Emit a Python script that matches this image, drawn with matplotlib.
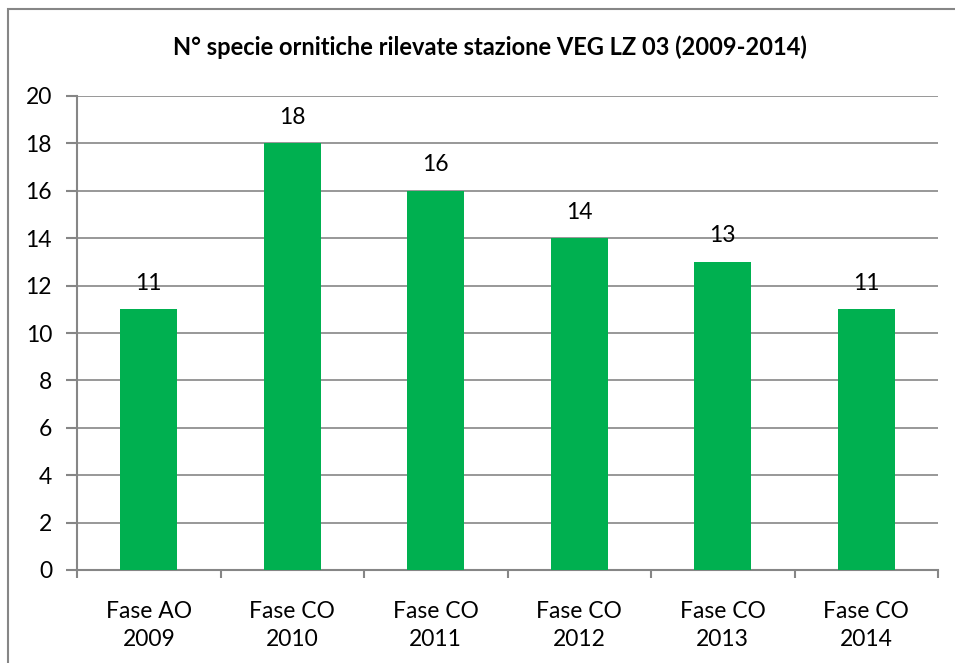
import matplotlib.pyplot as plt
from matplotlib.patches import Rectangle

# data
categories = ['Fase AO\n2009', 'Fase CO\n2010', 'Fase CO\n2011',
              'Fase CO\n2012', 'Fase CO\n2013', 'Fase CO\n2014']
species_count = [11, 18, 16, 14, 13, 11]

plt.rcParams['font.family'] = ['Lato', 'DejaVu Sans']

fig = plt.figure(figsize=(9.55, 6.63), dpi=100)
ax = fig.add_axes([77 / 955, 1 - 570 / 663, (938 - 77) / 955, (570 - 96) / 663])

x = range(len(categories))
bars = ax.bar(x, species_count, width=0.4, color='#00B050', zorder=3)
for i, v in enumerate(species_count):
    ax.text(i, v + 0.65, str(v), ha='center', va='bottom', fontsize=16.5)

ax.set_xlim(-0.5, len(categories) - 0.5)
ax.set_ylim(0, 20)
ax.set_yticks(range(0, 21, 2))
ax.set_xticks([i - 0.5 for i in range(len(categories) + 1)], minor=False)
ax.set_xticklabels([])
ax.set_xticks(list(x), minor=True)
ax.set_xticklabels(categories, minor=True, fontsize=16.5, linespacing=1.45)
ax.tick_params(axis='x', which='minor', length=0, pad=22)
ax.tick_params(axis='x', which='major', length=6, color='#868686', width=1.5)
ax.tick_params(axis='y', length=8, color='#868686', width=1.5, labelsize=16.5, pad=10)

ax.grid(axis='y', color='#868686', linewidth=1.2, zorder=0)
for side in ['top', 'right']:
    ax.spines[side].set_visible(False)
for side in ['left', 'bottom']:
    ax.spines[side].set_color('#868686')
    ax.spines[side].set_linewidth(1.5)

fig.text(490 / 955, 1 - 47 / 663, 'N° specie ornitiche rilevate stazione VEG LZ 03 (2009-2014)',
         ha='center', va='center', fontsize=17, fontweight='bold')

# outer chart frame (only left and top edges fall inside the image)
fig.patches.append(Rectangle((8 / 955, -0.1), 1.2, 1 - 9 / 663 + 0.1, transform=fig.transFigure,
                             fill=False, edgecolor='#868686', linewidth=1.5))

fig.savefig('out.png', dpi=100)
